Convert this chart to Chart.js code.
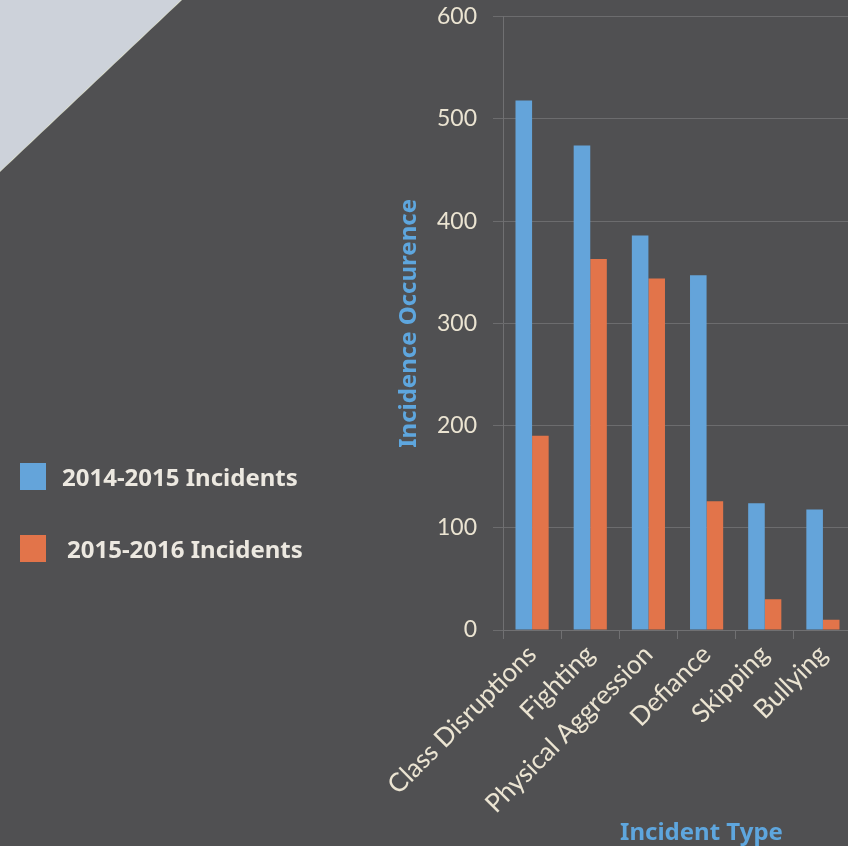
<!DOCTYPE html>
<html>
<head>
<meta charset="utf-8">
<script src="https://cdn.jsdelivr.net/npm/chart.js@4.4.1/dist/chart.umd.min.js"></script>
<style>
  html, body { margin: 0; padding: 0; width: 848px; height: 846px; overflow: hidden; background: #505052; }
  #corner { position: absolute; left: 0; top: 0; width: 182px; height: 172px;
    background: linear-gradient(to bottom right, #cdd2da 0%, #cdd2da 49.6%, #d9dccb 49.8%, transparent 50.2%); }
  #wrap { position: absolute; left: 0; top: 0; width: 852px; height: 846px; }
  #legend { position: absolute; left: 20px; top: 459px; font-family: "Noto Sans", sans-serif; font-weight: bold;
    font-size: 24px; color: #ece8e0; }
  .item { display: flex; align-items: center; height: 34px; }
  .item + .item { margin-top: 38px; }
  .sw { width: 26px; height: 27px; margin-right: 16px; }
</style>
</head>
<body>
<div id="corner"></div>
<div id="wrap"><canvas id="c" width="852" height="846"></canvas></div>
<div id="legend"></div>
<script>
const categories = ["Class Disruptions", "Fighting", "Physical Aggression", "Defiance", "Skipping", "Bullying"];
const incidents2014 = [518, 474, 386, 347, 124, 118];
const incidents2015 = [190, 363, 344, 126, 30, 10];
const seriesLabels = ["2014-2015 Incidents", "2015-2016 Incidents"];
const yTicks = [0, 100, 200, 300, 400, 500, 600];
const colors = ["#64a4da", "#e2744a"];

const legendEl = document.getElementById('legend');
seriesLabels.forEach((lab, i) => {
  const d = document.createElement('div');
  d.className = 'item';
  d.innerHTML = '<div class="sw" style="background:' + colors[i] + '"></div><span' + (i === 1 ? ' style="margin-left:5px"' : '') + '>' + lab + '</span>';
  legendEl.appendChild(d);
});

new Chart(document.getElementById('c'), {
  type: 'bar',
  data: {
    labels: categories,
    datasets: [
      { label: seriesLabels[0], data: incidents2014, backgroundColor: colors[0] },
      { label: seriesLabels[1], data: incidents2015, backgroundColor: colors[1] }
    ]
  },
  options: {
    responsive: false,
    animation: false,
    layout: { padding: { left: 395, top: 6, right: 0, bottom: 0 } },
    categoryPercentage: 0.57,
    barPercentage: 1.0,
    plugins: { legend: { display: false }, tooltip: { enabled: false } },
    scales: {
      x: {
        grid: { display: true, drawOnChartArea: false, drawTicks: true, tickLength: 9, color: '#707072', offset: true },
        border: { display: true, color: '#707072' },
        ticks: { color: '#ebe4d2', font: { family: 'Lato', size: 26 }, minRotation: 45, maxRotation: 45, padding: 0 },
        title: { display: true, text: '\u2002\u2002\u2002\u2002Incident Type', color: '#5ea6de', font: { family: 'Noto Sans', size: 24, weight: 'bold' }, padding: { top: 4, bottom: -2 } },
        afterFit: (s) => { s.height = 216; }
      },
      y: {
        min: 0, max: 600,
        afterBuildTicks: (s) => { s.ticks = yTicks.map(v => ({ value: v })); },
        grid: { color: '#6c6c6e', tickLength: 23, lineWidth: 1, tickBorderDash: [10, 13], tickBorderDashOffset: 10 },
        border: { display: true, color: '#707072' },
        ticks: { color: '#ebe4d2', font: { family: 'Lato', size: 23 }, padding: 3 },
        title: { display: true, text: 'Incidence Occurence', color: '#5ea6de', font: { family: 'Noto Sans', size: 24, weight: 'bold' }, padding: { top: 0, bottom: 0 } },
        afterFit: (s) => { s.width = 108; }
      }
    }
  }
});
</script>
</body>
</html>
